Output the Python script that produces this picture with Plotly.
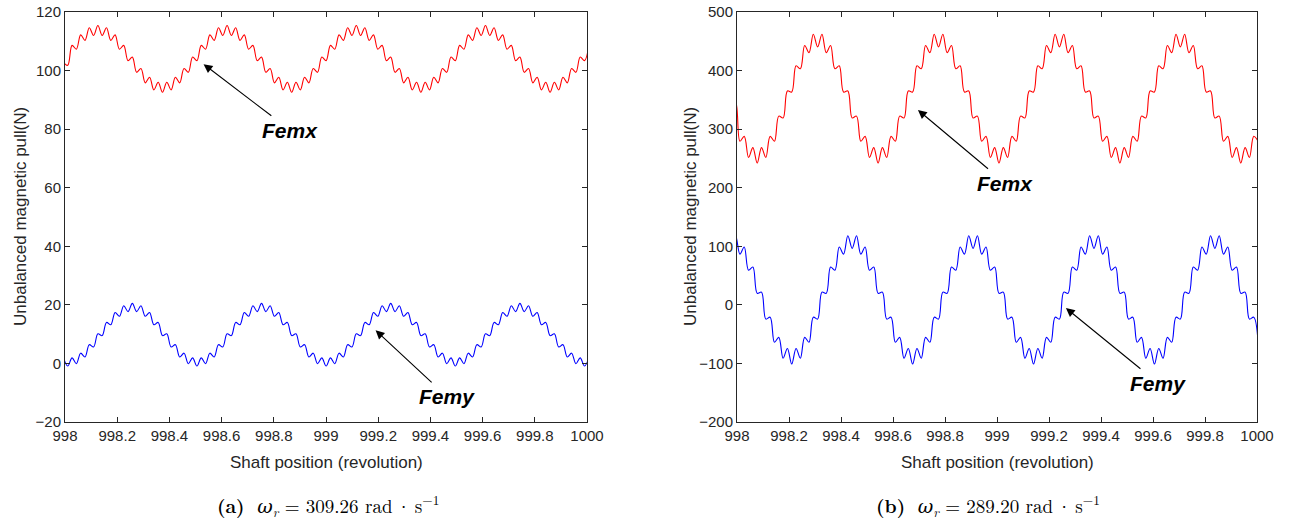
import numpy as np
import plotly.graph_objects as go

# ---------------- data ----------------
# Panel (a): sampled every half ripple period
a_x_start = 997.994
a_x_step = 0.0165
a_femx = [102.8, 101.8, 108.6, 107.3, 112.2, 110.3, 114.6, 112.0,
          115.4, 112.0, 114.6, 110.3, 112.2, 107.3, 108.6, 103.4, 104.6, 99.4, 100.7, 95.8, 97.7, 93.4, 96.0, 92.6,
          96.0, 93.4, 97.7, 95.8, 100.7, 99.4, 104.6, 103.4, 108.6, 107.3, 112.2, 110.3, 114.6, 112.0,
          115.4, 112.0, 114.6, 110.3, 112.2, 107.3, 108.6, 103.4, 104.6, 99.4, 100.7, 95.8, 97.7, 93.4, 96.0, 92.6,
          96.0, 93.4, 97.7, 95.8, 100.7, 99.4, 104.6, 103.4, 108.6, 107.3, 112.2, 110.3, 114.6, 112.0,
          115.4, 112.0, 114.6, 110.3, 112.2, 107.3, 108.6, 103.4, 104.6, 99.4, 100.7, 95.8, 97.7, 93.4, 96.0, 92.6,
          96.0, 93.4, 97.7, 95.8, 100.7, 99.4, 104.6, 103.4, 108.6, 107.3, 112.2, 110.3, 114.6, 112.0,
          115.4, 112.0, 114.6, 110.3, 112.2, 107.3, 108.6, 103.4, 104.6, 99.4, 100.7, 95.8, 97.7, 93.4, 96.0, 92.6,
          96.0, 93.4, 97.7, 95.8, 100.7, 99.4, 104.6, 103.4, 108.6]
a_femy = [1.9, -0.9, 1.9, -0.1, 3.5, 2.2, 6.4, 5.6, 10.1, 9.5, 14.0, 13.2, 17.4, 16.1, 19.7, 17.7,
          20.5, 17.7, 19.7, 16.1, 17.4, 13.2, 14.0, 9.5, 10.1, 5.6, 6.4, 2.2, 3.5, -0.1, 1.9, -0.9,
          1.9, -0.1, 3.5, 2.2, 6.4, 5.6, 10.1, 9.5, 14.0, 13.2, 17.4, 16.1, 19.7, 17.7,
          20.5, 17.7, 19.7, 16.1, 17.4, 13.2, 14.0, 9.5, 10.1, 5.6, 6.4, 2.2, 3.5, -0.1, 1.9, -0.9,
          1.9, -0.1, 3.5, 2.2, 6.4, 5.6, 10.1, 9.5, 14.0, 13.2, 17.4, 16.1, 19.7, 17.7,
          20.5, 17.7, 19.7, 16.1, 17.4, 13.2, 14.0, 9.5, 10.1, 5.6, 6.4, 2.2, 3.5, -0.1, 1.9, -0.9,
          1.9, -0.1, 3.5, 2.2, 6.4, 5.6, 10.1, 9.5, 14.0, 13.2, 17.4, 16.1, 19.7, 17.7,
          20.5, 17.7, 19.7, 16.1, 17.4, 13.2, 14.0, 9.5, 10.1, 5.6, 6.4, 2.2, 3.5, -0.1, 1.9, -0.9, 1.9]

# Panel (b)
b_x_start = 997.978
b_x_step = 0.016607
b_femx = [338.0, 346.0, 279.4, 287.7, 251.8, 268.5, 242.0, 268.5, 251.8, 287.7, 279.4, 322.2, 319.1, 365.2,
          363.3, 408.2, 403.1, 442.8, 430.6, 461.9,
          440.4, 461.9, 430.6, 442.8, 403.1, 408.2, 363.3, 365.2, 319.1, 322.2, 279.4, 287.7, 251.8, 268.5,
          242.0, 268.5, 251.8, 287.7, 279.4, 322.2, 319.1, 365.2, 363.3, 408.2, 403.1, 442.8, 430.6, 461.9,
          440.4, 461.9, 430.6, 442.8, 403.1, 408.2, 363.3, 365.2, 319.1, 322.2, 279.4, 287.7, 251.8, 268.5,
          242.0, 268.5, 251.8, 287.7, 279.4, 322.2, 319.1, 365.2, 363.3, 408.2, 403.1, 442.8, 430.6, 461.9,
          440.4, 461.9, 430.6, 442.8, 403.1, 408.2, 363.3, 365.2, 319.1, 322.2, 279.4, 287.7, 251.8, 268.5,
          242.0, 268.5, 251.8, 287.7, 279.4, 322.2, 319.1, 365.2, 363.3, 408.2, 403.1, 442.8, 430.6, 461.9,
          440.4, 461.9, 430.6, 442.8, 403.1, 408.2, 363.3, 365.2, 319.1, 322.2, 279.4, 287.7, 251.8, 268.5,
          242.0, 268.5, 251.8, 287.7, 279.4]
b_femy = [96.4, 117.9, 86.6, 98.9, 59.2, 64.5, 19.7, 21.7, -24.3, -21.1, -63.8, -55.5, -91.2, -74.5,
          -101.0, -74.5, -91.2, -55.5, -63.8, -21.1, -24.3, 21.7, 19.7, 64.5, 59.2, 98.9, 86.6, 117.9,
          96.4, 117.9, 86.6, 98.9, 59.2, 64.5, 19.7, 21.7, -24.3, -21.1, -63.8, -55.5, -91.2, -74.5,
          -101.0, -74.5, -91.2, -55.5, -63.8, -21.1, -24.3, 21.7, 19.7, 64.5, 59.2, 98.9, 86.6, 117.9,
          96.4, 117.9, 86.6, 98.9, 59.2, 64.5, 19.7, 21.7, -24.3, -21.1, -63.8, -55.5, -91.2, -74.5,
          -101.0, -74.5, -91.2, -55.5, -63.8, -21.1, -24.3, 21.7, 19.7, 64.5, 59.2, 98.9, 86.6, 117.9,
          96.4, 117.9, 86.6, 98.9, 59.2, 64.5, 19.7, 21.7, -24.3, -21.1, -63.8, -55.5, -91.2, -74.5,
          -101.0, -74.5, -91.2, -55.5, -63.8, -21.1, -24.3, 21.7, 19.7, 64.5, 59.2, 98.9, 86.6, 117.9,
          96.4, 117.9, 86.6, 98.9, 59.2, 64.5, 19.7, 21.7, -24.3, -21.1, -63.8]

x_tick_vals = [998, 998.2, 998.4, 998.6, 998.8, 999, 999.2, 999.4, 999.6, 999.8, 1000]
x_tick_text = ["998", "998.2", "998.4", "998.6", "998.8", "999", "999.2", "999.4", "999.6", "999.8", "1000"]
a_y_ticks = [-20, 0, 20, 40, 60, 80, 100, 120]
b_y_ticks = [-200, -100, 0, 100, 200, 300, 400, 500]

x_title = "Shaft position (revolution)"
y_title = "Unbalanced magnetic pull(N)"
cap_a = "<b>(a)</b>  <i>ω<sub>r</sub></i> = 309.26 rad\u2009·\u2009s<sup>−1</sup>"
cap_b = "<b>(b)</b>  <i>ω<sub>r</sub></i> = 289.20 rad\u2009·\u2009s<sup>−1</sup>"

# ---------------- figure ----------------
W, H = 1306, 524
def px(v):
    return v / W
def py(v):
    return 1 - v / H

a_x = a_x_start + a_x_step * np.arange(len(a_femx))
b_x = b_x_start + b_x_step * np.arange(len(b_femx))

fig = go.Figure()
line_kw = dict(shape="spline", smoothing=1.0, width=1.1)
fig.add_trace(go.Scatter(x=a_x, y=a_femx, mode="lines", line=dict(color="#ff0000", **line_kw),
                         xaxis="x", yaxis="y", showlegend=False, hoverinfo="skip"))
fig.add_trace(go.Scatter(x=a_x, y=a_femy, mode="lines", line=dict(color="#0000ff", **line_kw),
                         xaxis="x", yaxis="y", showlegend=False, hoverinfo="skip"))
fig.add_trace(go.Scatter(x=b_x, y=b_femx, mode="lines", line=dict(color="#ff0000", **line_kw),
                         xaxis="x2", yaxis="y2", showlegend=False, hoverinfo="skip"))
fig.add_trace(go.Scatter(x=b_x, y=b_femy, mode="lines", line=dict(color="#0000ff", **line_kw),
                         xaxis="x2", yaxis="y2", showlegend=False, hoverinfo="skip"))

axcol = "#262626"
tickfont = dict(family="Liberation Sans, Arial, sans-serif", size=15, color=axcol)
common = dict(showline=True, linecolor=axcol, linewidth=1, mirror="allticks", ticks="inside",
              ticklen=5, tickcolor=axcol, showgrid=False, zeroline=False, tickfont=tickfont,
              automargin=False)

ydom = [py(422), py(12)]
fig.update_layout(
    width=W, height=H, margin=dict(l=0, r=0, t=0, b=0, autoexpand=False),
    paper_bgcolor="white", plot_bgcolor="white",
    xaxis=dict(domain=[px(65), px(587)], range=[998, 1000], tickvals=x_tick_vals, ticktext=x_tick_text,
               anchor="y", **common),
    yaxis=dict(domain=ydom, range=[-20, 120], tickvals=a_y_ticks, anchor="x", **common),
    xaxis2=dict(domain=[px(737), px(1257)], range=[998, 1000], tickvals=x_tick_vals, ticktext=x_tick_text,
                anchor="y2", **common),
    yaxis2=dict(domain=ydom, range=[-200, 500], tickvals=b_y_ticks, anchor="x2", **common),
)

annos = []
tfont = dict(family="Liberation Sans, Arial, sans-serif", size=17, color=axcol)
for cx in (326, 997):
    annos.append(dict(text=x_title, xref="paper", yref="paper", x=px(cx), y=py(463),
                      showarrow=False, font=tfont, xanchor="center", yanchor="middle"))
for cx in (20, 690):
    annos.append(dict(text=y_title, xref="paper", yref="paper", x=px(cx), y=py(217),
                      showarrow=False, font=tfont, textangle=-90, xanchor="center", yanchor="middle"))
capfont = dict(family="Latin Modern Roman, DejaVu Serif, Liberation Serif, serif", size=19, color="black")
annos.append(dict(text=cap_a, xref="paper", yref="paper", x=px(328), y=py(505), showarrow=False,
                  font=capfont, xanchor="center", yanchor="middle"))
annos.append(dict(text=cap_b, xref="paper", yref="paper", x=px(988), y=py(505), showarrow=False,
                  font=capfont, xanchor="center", yanchor="middle"))

lblfont = dict(family="Liberation Sans, Arial, sans-serif", size=21, color="black")
# (axis, arrow head, label centre, label)
arrows = [
    ("", (998.531, 102.2), (998.862, 79.7), "Femx"),
    ("", (999.190, 11.3), (999.464, -11.4), "Femy"),
    ("2", (998.696, 332.7), (999.031, 208.0), "Femx"),
    ("2", (999.265, -5.4), (999.619, -133.5), "Femy"),
]
for ax_id, head, lab, txt in arrows:
    xr, yr = "x" + ax_id, "y" + ax_id
    annos.append(dict(xref=xr, yref=yr, x=head[0], y=head[1], axref=xr, ayref=yr, ax=lab[0], ay=lab[1],
                      text="<b><i>" + txt + "</i></b>", font=lblfont, showarrow=True, arrowhead=2,
                      arrowsize=1.6, arrowwidth=1.1, arrowcolor="black", standoff=0, startstandoff=2))

fig.update_layout(annotations=annos)
fig.write_html("out.html", config={"displayModeBar": False},
               post_script="document.body.style.margin='0';document.body.style.overflow='hidden';")
